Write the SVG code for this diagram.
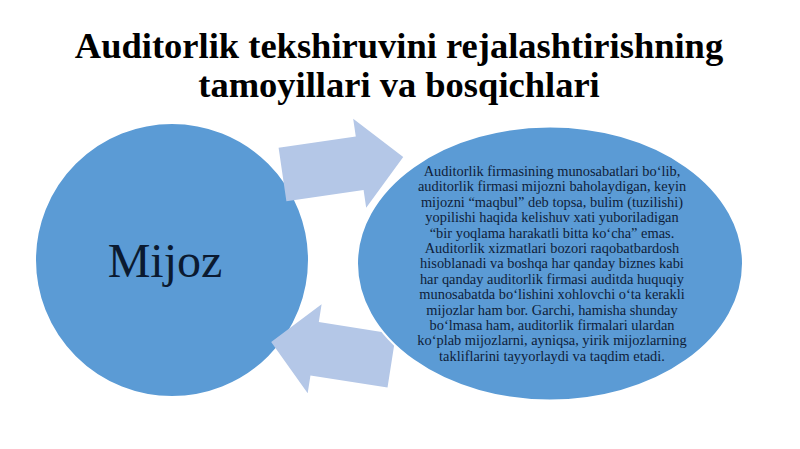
<svg xmlns="http://www.w3.org/2000/svg" width="800" height="449" viewBox="0 0 800 449">
  <style>
    .title { font-family: "Liberation Serif", "Times New Roman", serif; font-weight: bold; font-size: 36.5px; fill: #000000; text-anchor: middle; }
    .node { fill: #5b9bd5; stroke: #ffffff; stroke-width: 2; }
    .arrow { fill: #b4c7e7; }
    .big { font-family: "Liberation Serif", "Times New Roman", serif; font-size: 48px; fill: #0b1a30; text-anchor: middle; }
    .body { font-family: "Liberation Serif", "Times New Roman", serif; font-size: 14.4px; fill: #0f1e3a; text-anchor: middle; }
  </style>
  <defs>
    <path id="arrowShape" d="M0,-27 L78,-27 L78,-45 L122,0 L78,45 L78,27 L0,27 Z"/>
  </defs>
  <rect width="800" height="449" fill="#ffffff"/>
  <g id="title">
    <text class="title" x="399" y="58">Auditorlik tekshiruvini rejalashtirishning</text>
    <text class="title" x="399" y="97">tamoyillari va bosqichlari</text>
  </g>
  <g id="node-mijoz">
    <circle class="node" cx="172" cy="260" r="137"/>
    <text class="big" x="165" y="277">Mijoz</text>
  </g>
  <g id="connectors">
    <use href="#arrowShape" class="arrow" transform="translate(282.5,174.5) rotate(-8.3)"/>
    <use href="#arrowShape" class="arrow" transform="translate(391.7,360.8) rotate(188.9)"/>
  </g>
  <g id="node-description">
    <ellipse class="node" cx="550" cy="263.5" rx="193" ry="137"/>
    <text class="body" x="552" y="176">Auditorlik firmasining munosabatlari boʻlib,</text>
    <text class="body" x="552" y="191.4">auditorlik firmasi mijozni baholaydigan, keyin</text>
    <text class="body" x="552" y="206.8">mijozni “maqbul” deb topsa, bulim (tuzilishi)</text>
    <text class="body" x="552" y="222.2">yopilishi haqida kelishuv xati yuboriladigan</text>
    <text class="body" x="552" y="237.6">“bir yoqlama harakatli bitta koʻcha” emas.</text>
    <text class="body" x="552" y="253">Auditorlik xizmatlari bozori raqobatbardosh</text>
    <text class="body" x="552" y="268.4">hisoblanadi va boshqa har qanday biznes kabi</text>
    <text class="body" x="552" y="283.8">har qanday auditorlik firmasi auditda huquqiy</text>
    <text class="body" x="552" y="299.2">munosabatda boʻlishini xohlovchi oʻta kerakli</text>
    <text class="body" x="552" y="314.6">mijozlar ham bor. Garchi, hamisha shunday</text>
    <text class="body" x="552" y="330">boʻlmasa ham, auditorlik firmalari ulardan</text>
    <text class="body" x="552" y="345.4">koʻplab mijozlarni, ayniqsa, yirik mijozlarning</text>
    <text class="body" x="552" y="360.8">takliflarini tayyorlaydi va taqdim etadi.</text>
  </g>
</svg>
